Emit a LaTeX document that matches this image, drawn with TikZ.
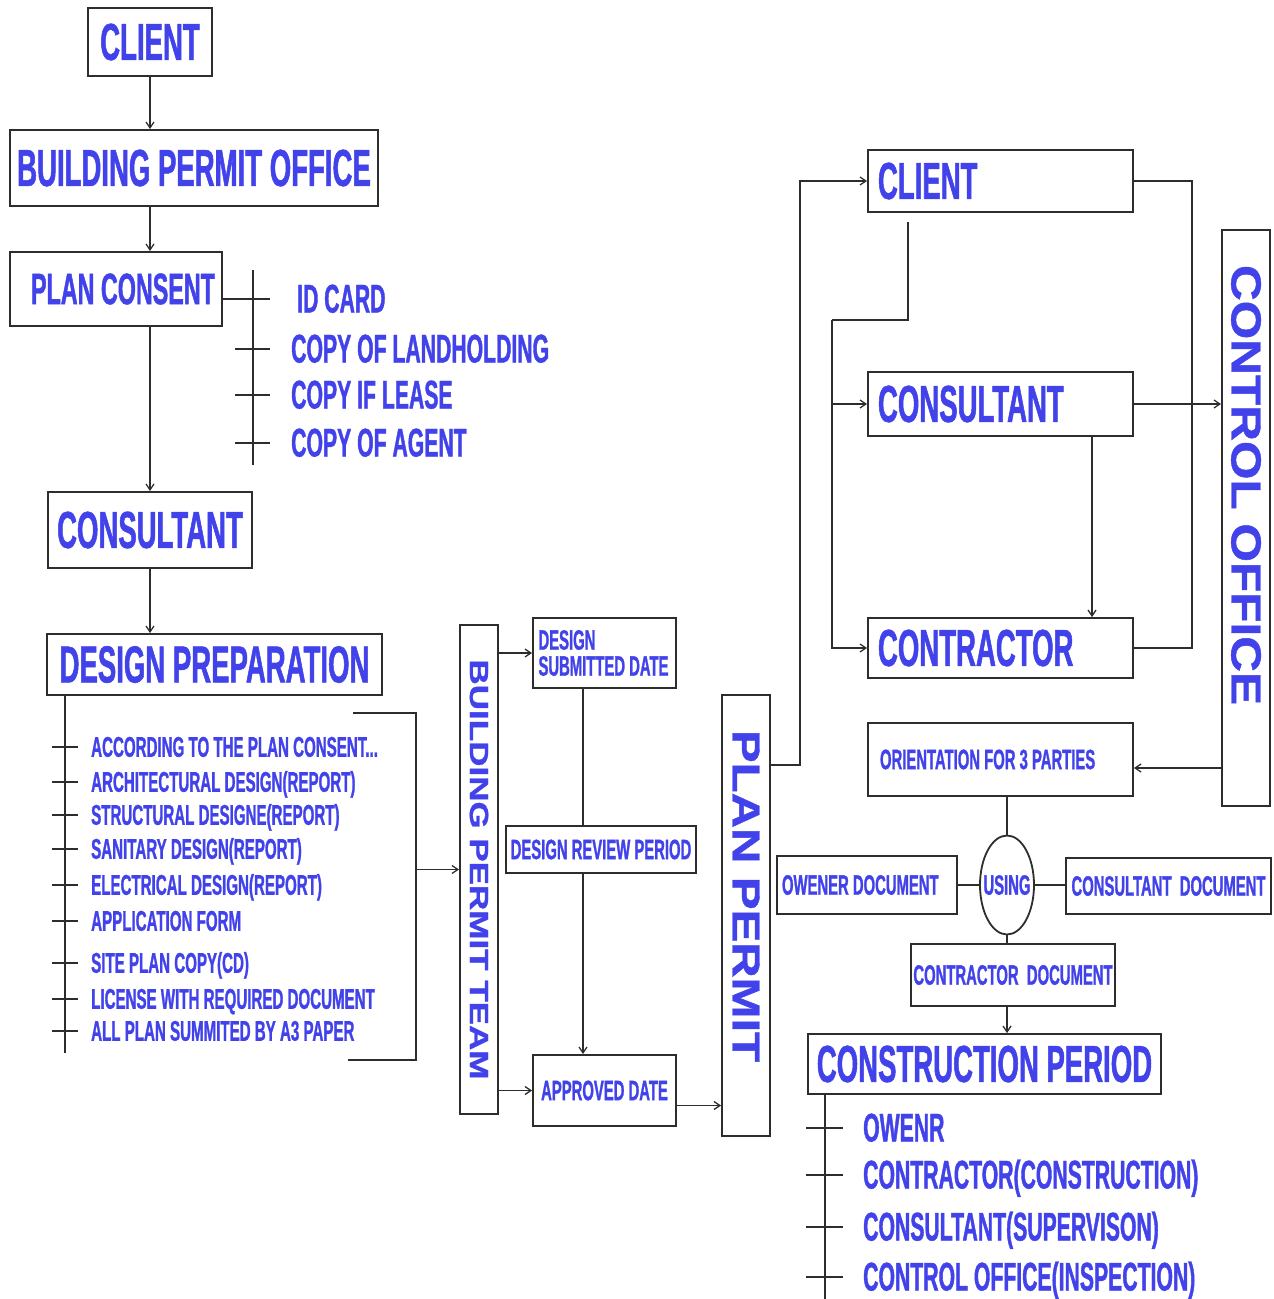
\documentclass[tikz,border=0pt]{standalone}
\usepackage{fontspec}
\usepackage{xcolor}
\usepackage{graphicx}
\usepackage{tikz}
\usetikzlibrary{arrows.meta, positioning, shapes.geometric, calc}
\newfontfamily\diafont{Liberation Sans}[FakeStretch=0.53, FakeBold=1]
\newfontfamily\rotfont{Liberation Sans}[FakeBold=1]
\definecolor{txtblue}{RGB}{66,66,235}
\definecolor{linegray}{RGB}{45,45,45}

\begin{document}
\begin{tikzpicture}[
    x=1pt, y=-1pt,
    boxed/.style={rectangle, draw=linegray, line width=1.8pt, inner sep=0pt, align=center, text=txtblue},
    bigtxt/.style={font=\diafont\bfseries\fontsize{52}{56}\selectfont},
    midtxt/.style={font=\diafont\bfseries\fontsize{44}{48}\selectfont},
    smalltxt/.style={font=\diafont\bfseries\fontsize{28}{26}\selectfont},
    rbox/.style={boxed, bigtxt, minimum width=265, text width=245, inner xsep=10, align=flush left},
    item/.style={anchor=west, inner sep=0pt, text height=27pt, text depth=0pt, text=txtblue,
                 font=\diafont\bfseries\fontsize{40}{44}\selectfont},
    ditem/.style={anchor=west, inner sep=0pt, text height=19.5pt, text depth=0pt, text=txtblue,
                  font=\diafont\bfseries\fontsize{28.5}{30}\selectfont},
    vert/.style={boxed, rotate=-90, font=\rotfont\bfseries\fontsize{49}{52}\selectfont},
    conn/.style={draw=linegray, line width=1.3pt},
    arr/.style={conn, -{Straight Barb[length=6pt, width=8pt]}}
  ]
    \useasboundingbox (0,0) rectangle (1274,1299);

    % left column
    \node[boxed, bigtxt, minimum width=124, minimum height=68] (cl1) at (150,42) {CLIENT};
    \node[boxed, bigtxt, minimum width=368, minimum height=76] (bpo) at (194,168) {BUILDING PERMIT OFFICE};
    \node[boxed, midtxt, minimum width=212, minimum height=74, text width=198, inner xsep=7, align=flush right] (pc) at (116,289) {PLAN CONSENT};
    \node[boxed, bigtxt, minimum width=204, minimum height=76] (cons1) at (150,530) {CONSULTANT};
    \node[boxed, bigtxt, minimum width=335, minimum height=61] (dp) at (214.5,664.5) {DESIGN PREPARATION};
    \draw[arr] (cl1.south) -- (cl1.south |- bpo.north);
    \draw[arr] (cl1.south |- bpo.south) -- (cl1.south |- pc.north);
    \draw[arr] (cl1.south |- pc.south) -- (cons1.north);
    \draw[arr] (cons1.south) -- (cons1.south |- dp.north);

    % plan consent documents
    \node[item] (idc) at (297,299) {ID CARD};
    \node[item] (land) at (291,349) {COPY OF LANDHOLDING};
    \node[item] (lease) at (291,395) {COPY IF LEASE};
    \node[item] (agent) at (291,443) {COPY OF AGENT};
    \coordinate (pcbar) at (253,270);
    \coordinate (pcend) at (253,465);
    \draw[conn] (pcbar) -- (pcend);
    \draw[conn] (pc.east |- idc.west) -- ($(pcbar |- idc.west)+(17,0)$);
    \foreach \n in {land,lease,agent}
      \draw[conn] ($(pcbar |- \n.west)+(-18,0)$) -- ++(35,0);

    % design documents
    \node[ditem] (d1) at (91,747) {ACCORDING TO THE PLAN CONSENT...};
    \foreach \y/\t [count=\i from 2] in {782/ARCHITECTURAL DESIGN(REPORT), 815/STRUCTURAL DESIGNE(REPORT),
        849/SANITARY DESIGN(REPORT), 885/ELECTRICAL DESIGN(REPORT), 921/APPLICATION FORM,
        963/SITE PLAN COPY(CD), 999/LICENSE WITH REQUIRED DOCUMENT, 1031/ALL PLAN SUMMITED BY A3 PAPER}
      \node[ditem] (d\i) at (91,\y) {\t};
    \coordinate (dpend) at (65,1053);
    \draw[conn] (dp.south -| dpend) -- (dpend);
    \foreach \i in {1,...,9}
      \draw[conn] ($(dpend |- d\i.west)+(-13,0)$) -- ++(26,0);

    % bracket to the permit team
    \coordinate (brtop) at (353,713);
    \coordinate (brbot) at (348,1060);
    \coordinate (brmid) at (416,869.5);
    \draw[conn] (brtop) -- (brtop -| brmid) -- (brbot -| brmid) -- (brbot);

    % permit team
    \node[vert, font=\rotfont\bfseries\fontsize{35}{38}\selectfont, minimum width=489, minimum height=38] (bpt) at (479,869.5) {\scalebox{1}[0.75]{BUILDING PERMIT TEAM}};
    \node[boxed, smalltxt, minimum width=143, minimum height=70, text width=132, inner xsep=5.5, align=flush left] (dsd) at (604.5,653) {DESIGN\\SUBMITTED~DATE};
    \node[boxed, smalltxt, minimum width=190, minimum height=47] (drp) at (601,849.5) {DESIGN REVIEW PERIOD};
    \node[boxed, smalltxt, minimum width=143, minimum height=71] (ad) at (604.5,1090.5) {APPROVED DATE};
    \node[vert, minimum width=441, minimum height=48, text width=371, inner xsep=35, align=flush left] (pp) at (746,915.5) {\scalebox{1}[0.8]{PLAN PERMIT}};
    \draw[arr] (brmid) -- (brmid -| bpt.south);
    \draw[arr] (bpt.north |- dsd.west) -- (dsd.west);
    \draw[arr] (bpt.north |- ad.west) -- (ad.west);
    \coordinate (rv) at (583,0);
    \draw[conn] (rv |- dsd.south) -- (rv |- drp.north);
    \draw[arr] (rv |- drp.south) -- (rv |- ad.north);
    \coordinate (adout) at ([yshift=-15pt]ad.east);
    \draw[arr] (adout) -- (adout -| pp.south);

    % three parties
    \node[rbox, minimum height=62] (cl2) at (1000.5,181) {CLIENT};
    \node[rbox, minimum height=64] (cons2) at (1000.5,404) {CONSULTANT};
    \node[rbox, minimum height=60] (contr) at (1000.5,648) {CONTRACTOR};
    \node[vert, font=\rotfont\bfseries\fontsize{49.5}{52}\selectfont, minimum width=576, minimum height=48, text width=506, inner xsep=35, align=flush left] (co) at (1246,518) {\scalebox{1}[0.85]{CONTROL OFFICE}};
    \coordinate (ppj) at (800,765);
    \draw[arr] (ppj -| pp.north) -- (ppj) |- (cl2.west);
    \coordinate (kn) at (832,320);
    \coordinate (cb) at (908,222);
    \draw[conn] (cb) |- (kn);
    \draw[arr] (kn) |- (contr.west);
    \draw[arr] (kn |- cons2.west) -- (cons2.west);
    \coordinate (rx) at (1192,400);
    \draw[conn] (cl2.east) -| (rx |- contr.east) -- (contr.east);
    \draw[arr] (cons2.east) -- (cons2.east -| co.south);
    \coordinate (cs) at (1092,0);
    \draw[arr] (cs |- cons2.south) -- (cs |- contr.north);

    % orientation and documents
    \node[boxed, smalltxt, minimum width=265, minimum height=73, text width=241, inner xsep=12, align=flush left] (orient) at (1000.5,759.5) {ORIENTATION FOR 3 PARTIES};
    \node[ellipse, draw=linegray, line width=1.8pt, inner sep=0pt, minimum width=54, minimum height=99, text=txtblue, smalltxt] (using) at (1007,885) {\makebox[20pt]{USING}};
    \node[boxed, smalltxt, minimum width=180, minimum height=58, text width=170, inner xsep=5, align=flush left] (odoc) at (867,885) {OWENER DOCUMENT};
    \node[boxed, smalltxt, minimum width=205, minimum height=56] (cdoc) at (1168.5,886) {CONSULTANT\ \ DOCUMENT};
    \node[boxed, smalltxt, minimum width=204, minimum height=62] (crdoc) at (1013,975) {CONTRACTOR\ \ DOCUMENT};
    \node[boxed, bigtxt, minimum width=353, minimum height=60] (cp) at (984.5,1064) {CONSTRUCTION PERIOD};
    \coordinate (coout) at (1222,768);
    \draw[arr] (coout) -- (coout -| orient.east);
    \draw[conn] (using.north |- orient.south) -- (using.north);
    \draw[conn] (odoc.east) -- (using.west);
    \draw[conn] (using.east) -- (using.east -| cdoc.west);
    \draw[conn] (using.south) -- (using.south |- crdoc.north);
    \draw[arr] (using.south |- crdoc.south) -- (using.south |- cp.north);

    % construction period parties
    \foreach \y/\t [count=\i] in {1128/OWENR, 1175/CONTRACTOR(CONSTRUCTION), 1227/CONSULTANT(SUPERVISON), 1277/CONTROL OFFICE(INSPECTION)}
      \node[item] (c\i) at (863,\y) {\t};
    \coordinate (cpend) at (825,1299);
    \draw[conn] (cp.south -| cpend) -- (cpend);
    \foreach \i in {1,...,4}
      \draw[conn] ($(cpend |- c\i.west)+(-19,0)$) -- ++(37,0);
\end{tikzpicture}
\end{document}
